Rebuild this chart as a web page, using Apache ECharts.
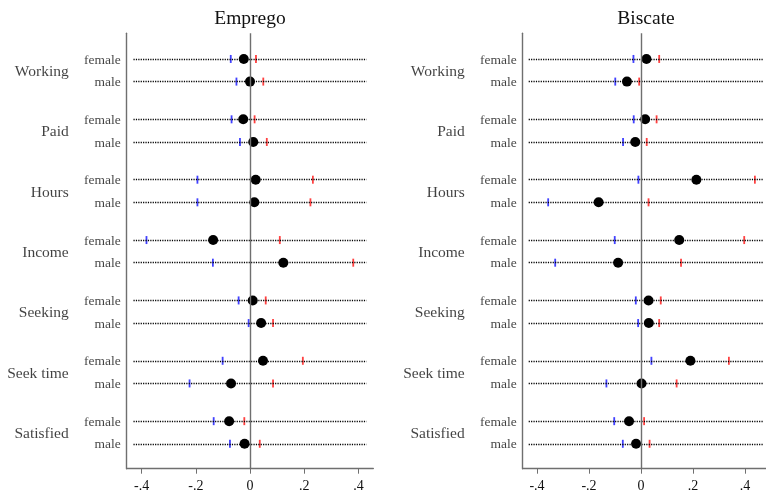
<!DOCTYPE html>
<html><head><meta charset="utf-8">
<script src="https://cdn.jsdelivr.net/npm/echarts@6/dist/echarts.min.js"></script>
<style>html,body{margin:0;padding:0;background:#fff}#c{width:766px;height:490px}</style>
</head><body><div id="c"></div>
<script>
// ---------------- data ----------------
const groups = ['Working', 'Paid', 'Hours', 'Income', 'Seeking', 'Seek time', 'Satisfied'];
const sexes = ['female', 'male'];
const panelTitles = ['Emprego', 'Biscate'];
const tickValues = [-0.4, -0.2, 0, 0.2, 0.4];
const tickLabels = ['-.4', '-.2', '0', '.2', '.4'];

// order: Working f, Working m, Paid f, Paid m, ... Satisfied f, Satisfied m
const empregoEst = [-0.023, 0.000, -0.025, 0.012, 0.021, 0.016, -0.136, 0.123, 0.010, 0.041, 0.048, -0.070, -0.077, -0.020];
const empregoLo  = [-0.071, -0.050, -0.068, -0.037, -0.194, -0.194, -0.382, -0.137, -0.042, -0.005, -0.101, -0.223, -0.134, -0.074];
const empregoHi  = [0.022, 0.049, 0.017, 0.062, 0.232, 0.223, 0.110, 0.381, 0.058, 0.085, 0.195, 0.085, -0.021, 0.036];

const biscateEst = [0.021, -0.054, 0.016, -0.022, 0.213, -0.163, 0.147, -0.088, 0.029, 0.030, 0.190, 0.002, -0.046, -0.019];
const biscateLo  = [-0.029, -0.099, -0.028, -0.069, -0.010, -0.357, -0.101, -0.330, -0.020, -0.011, 0.040, -0.133, -0.103, -0.070];
const biscateHi  = [0.070, -0.007, 0.060, 0.022, 0.438, 0.029, 0.397, 0.154, 0.076, 0.070, 0.338, 0.137, 0.012, 0.033];

// ---------------- layout ----------------
const SERIF = '"Liberation Serif", "Times New Roman", serif';
const AXIS_COLOR = '#6f6f6f';
const TEXT_COLOR = '#111111';
const GROUP_STEP = 8, FEMALE_OFF = 3.4, MALE_OFF = 6.4, Y_MAX = 57.7;
const panels = [
  { est: empregoEst, lo: empregoLo, hi: empregoHi, xmin: -0.455, xmax: 0.455, rowFrom: -0.43, rowTo: 0.43,
    grid: { left: 126.7, top: 33.3, width: 246.6, height: 435.4 }, titleX: 245 },
  { est: biscateEst, lo: biscateLo, hi: biscateHi, xmin: -0.455, xmax: 0.5, rowFrom: -0.432, rowTo: 0.468,
    grid: { left: 522.7, top: 33.3, width: 248.3, height: 435.4 }, titleX: 641 }
];

function rowY(i) {
  const g = Math.floor(i / 2), s = i % 2;
  return GROUP_STEP * g + (s === 0 ? FEMALE_OFF : MALE_OFF);
}

const option = {
  animation: false,
  backgroundColor: '#ffffff',
  title: [], grid: [], xAxis: [], yAxis: [], series: []
};

panels.forEach((p, k) => {
  option.title.push({
    text: panelTitles[k], left: p.titleX, top: 4, textAlign: 'center',
    textStyle: { fontFamily: SERIF, fontSize: 19.5, fontWeight: 'normal', color: TEXT_COLOR }
  });
  option.grid.push(Object.assign({ containLabel: false, outerBoundsMode: 'none' }, p.grid));
  option.xAxis.push({
    type: 'value', gridIndex: k, min: p.xmin, max: p.xmax,
    axisLine: { show: true, onZero: false, lineStyle: { color: AXIS_COLOR, width: 1.4 } },
    axisTick: { show: true, length: 5, customValues: tickValues, lineStyle: { color: AXIS_COLOR, width: 1 } },
    axisLabel: {
      customValues: tickValues, margin: 11,
      fontFamily: SERIF, fontSize: 14, color: TEXT_COLOR,
      formatter: v => { const i = tickValues.findIndex(t => Math.abs(t - v) < 1e-6); return i >= 0 ? tickLabels[i] : ''; }
    },
    splitLine: { show: false }
  });
  option.yAxis.push({
    type: 'value', gridIndex: k, inverse: true, min: 0, max: Y_MAX,
    axisLine: { show: true, onZero: false, lineStyle: { color: AXIS_COLOR, width: 1.4 } },
    axisTick: { show: false }, axisLabel: { show: false }, splitLine: { show: false }
  });

  // dotted row guides
  option.series.push({
    type: 'scatter', xAxisIndex: k, yAxisIndex: k, data: [], z: 1, silent: true,
    markLine: {
      silent: true, symbol: ['none', 'none'], label: { show: false }, animation: false,
      lineStyle: { color: '#000', type: [1.2, 1.2], width: 1.4 },
      data: p.est.map((_, i) => [{ coord: [p.rowFrom, rowY(i)] }, { coord: [p.rowTo, rowY(i)] }])
    }
  });
  // zero line
  option.series.push({
    type: 'scatter', xAxisIndex: k, yAxisIndex: k, data: [], z: 2, silent: true,
    markLine: {
      silent: true, symbol: ['none', 'none'], label: { show: false }, animation: false,
      lineStyle: { color: AXIS_COLOR, type: 'solid', width: 1.4 },
      data: [{ xAxis: 0 }]
    }
  });
  // lower bounds (blue)
  option.series.push({
    type: 'scatter', xAxisIndex: k, yAxisIndex: k, z: 3, silent: true,
    symbol: 'rect', symbolSize: [1.8, 8], itemStyle: { color: '#1010ff' },
    data: p.lo.map((v, i) => [v, rowY(i)])
  });
  // upper bounds (red)
  option.series.push({
    type: 'scatter', xAxisIndex: k, yAxisIndex: k, z: 3, silent: true,
    symbol: 'rect', symbolSize: [1.8, 8], itemStyle: { color: '#ff1010' },
    data: p.hi.map((v, i) => [v, rowY(i)])
  });
  // estimates
  option.series.push({
    type: 'scatter', xAxisIndex: k, yAxisIndex: k, z: 4, silent: true,
    symbol: 'circle', symbolSize: 10, itemStyle: { color: '#000', opacity: 1 },
    data: p.est.map((v, i) => [v, rowY(i)])
  });
  // sex labels
  option.series.push({
    type: 'scatter', xAxisIndex: k, yAxisIndex: k, z: 5, silent: true, clip: false,
    symbolSize: 0,
    data: p.est.map((_, i) => [p.xmin, rowY(i), sexes[i % 2]]),
    label: { show: true, position: 'left', distance: 6, offset: [0, 1], formatter: d => d.data[2],
      fontFamily: SERIF, fontSize: 13.5, color: TEXT_COLOR }
  });
  // group labels
  option.series.push({
    type: 'scatter', xAxisIndex: k, yAxisIndex: k, z: 5, silent: true, clip: false,
    symbolSize: 0,
    data: groups.map((gname, g) => [p.xmin, GROUP_STEP * g + (FEMALE_OFF + MALE_OFF) / 2, gname]),
    label: { show: true, position: 'left', distance: 58, offset: [0, 1.5], formatter: d => d.data[2],
      fontFamily: SERIF, fontSize: 15.5, color: TEXT_COLOR }
  });
});

const chart = echarts.init(document.getElementById('c'), null, { renderer: 'canvas' });
chart.setOption(option);
</script>
</body></html>
